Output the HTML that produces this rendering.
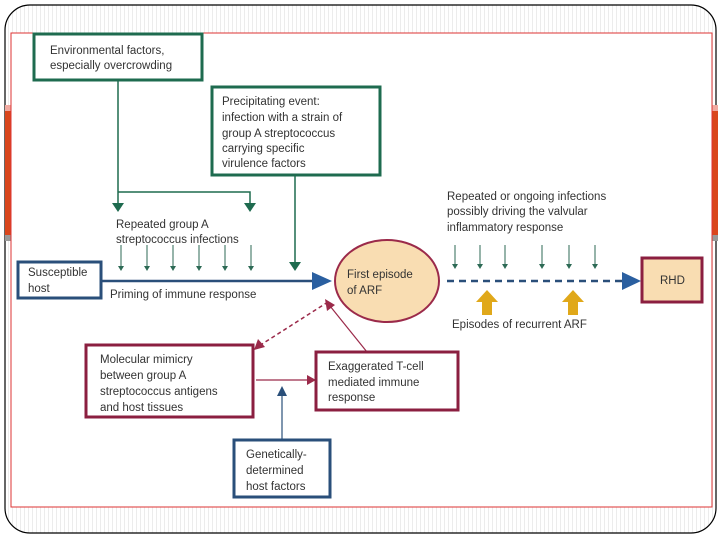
<!DOCTYPE html>
<html><head><style>
html,body{margin:0;padding:0;background:#fff;}
svg{display:block;font-family:"Liberation Sans",sans-serif;}
text{font-size:11.5px;fill:#333;}
</style></head><body>
<svg width="720" height="540" viewBox="0 0 720 540" xmlns="http://www.w3.org/2000/svg">
<defs>
<pattern id="st" width="4" height="10" patternUnits="userSpaceOnUse"><rect width="4" height="10" fill="#fff"/><rect width="1" height="10" fill="#ececec"/></pattern>
</defs>
<rect x="5" y="5" width="711" height="528" rx="25" fill="url(#st)" stroke="#000" stroke-width="1.2"/>
<rect x="5" y="105" width="7" height="6" fill="#f0a9a0"/>
<rect x="5" y="111" width="7" height="124" fill="#d9461c"/>
<rect x="5" y="235" width="7" height="6" fill="#999"/>
<rect x="711" y="105" width="7" height="6" fill="#f0a9a0"/>
<rect x="711" y="111" width="7" height="124" fill="#d9461c"/>
<rect x="711" y="235" width="7" height="6" fill="#999"/>
<rect x="11" y="33" width="701" height="474" fill="#fff" stroke="#d33" stroke-width="1"/>

<rect x="34" y="34" width="168" height="46" fill="#fff" stroke="#1e6b4f" stroke-width="3"/>
<text x="50" y="54">Environmental factors,</text>
<text x="50" y="69">especially overcrowding</text>
<rect x="212" y="87" width="168" height="88" fill="#fff" stroke="#1e6b4f" stroke-width="3"/>
<text x="222" y="105">Precipitating event:</text>
<text x="222" y="121">infection with a strain of</text>
<text x="222" y="137">group A streptococcus</text>
<text x="222" y="152">carrying specific</text>
<text x="222" y="167">virulence factors</text>

<path d="M118,80 V205 M118,192 H250 V205" stroke="#1e6b4f" stroke-width="1.5" fill="none"/>
<path d="M112,203 L124,203 L118,212z M244,203 L256,203 L250,212z M289,262 L301,262 L295,271z" fill="#1e6b4f"/>
<path d="M295,175 V263" stroke="#1e6b4f" stroke-width="1.5"/>
<text x="116" y="228">Repeated group A</text>
<text x="116" y="243">streptococcus infections</text>
<g stroke="#2d6a55" stroke-width="1">
<path d="M121,245V270M147,245V270M173,245V270M199,245V270M225,245V270M251,245V270"/>
<path d="M455,245V268M480,245V268M505,245V268M542,245V268M569,245V268M595,245V268"/>
</g>
<g fill="#2d6a55">
<path d="M118,266h6l-3,5z M144,266h6l-3,5z M170,266h6l-3,5z M196,266h6l-3,5z M222,266h6l-3,5z M248,266h6l-3,5z"/>
<path d="M452,264h6l-3,5z M477,264h6l-3,5z M502,264h6l-3,5z M539,264h6l-3,5z M566,264h6l-3,5z M592,264h6l-3,5z"/>
</g>

<rect x="18" y="262" width="83" height="36" fill="#fff" stroke="#2a4f7a" stroke-width="3"/>
<text x="28" y="276">Susceptible</text>
<text x="28" y="292">host</text>
<path d="M101,281 H316" stroke="#2a4f7a" stroke-width="2.5"/>
<path d="M312,272 L332,281 L312,290z" fill="#2a5fa0"/>
<text x="110" y="298">Priming of immune response</text>

<ellipse cx="387" cy="281" rx="52" ry="41" fill="#f9ddb2" stroke="#9b2a4a" stroke-width="2"/>
<text x="347" y="278">First episode</text>
<text x="347" y="294">of ARF</text>

<text x="447" y="200">Repeated or ongoing infections</text>
<text x="447" y="215">possibly driving the valvular</text>
<text x="447" y="231">inflammatory response</text>
<path d="M447,281 H622" stroke="#2a4f7a" stroke-width="2.5" stroke-dasharray="7,5"/>
<path d="M622,272 L641,281 L622,290z" fill="#2a5fa0"/>
<rect x="642" y="258" width="60" height="44" fill="#f9ddb2" stroke="#8b1f40" stroke-width="3"/>
<text x="660" y="284">RHD</text>
<path d="M487,290 L498,302 L492,302 L492,315 L482,315 L482,302 L476,302z M573,290 L584,302 L578,302 L578,315 L568,315 L568,302 L562,302z" fill="#e0a81a"/>
<text x="452" y="328">Episodes of recurrent ARF</text>

<path d="M328,302 L262,344" stroke="#9b2a4a" stroke-width="1.5" stroke-dasharray="4,3"/>
<path d="M254,350 L258,339 L265,347z" fill="#9b2a4a"/>
<path d="M367,352 L330,306" stroke="#9b2a4a" stroke-width="1.2"/>
<path d="M325,299 L335,305 L327,311z" fill="#9b2a4a"/>
<rect x="86" y="345" width="167" height="72" fill="#fff" stroke="#8b1f40" stroke-width="3"/>
<text x="100" y="363">Molecular mimicry</text>
<text x="100" y="379">between group A</text>
<text x="100" y="395">streptococcus antigens</text>
<text x="100" y="411">and host tissues</text>
<path d="M256,380 H308" stroke="#9b2a4a" stroke-width="1.2"/>
<path d="M307,375 L316,380 L307,385z" fill="#9b2a4a"/>
<rect x="316" y="352" width="142" height="58" fill="#fff" stroke="#8b1f40" stroke-width="3"/>
<text x="328" y="370">Exaggerated T-cell</text>
<text x="328" y="386">mediated immune</text>
<text x="328" y="401">response</text>
<path d="M282,440 V393" stroke="#2a4f7a" stroke-width="1.2"/>
<path d="M277,396 L282,386 L287,396z" fill="#2a4f7a"/>
<rect x="234" y="440" width="96" height="57" fill="#fff" stroke="#2a4f7a" stroke-width="3"/>
<text x="246" y="458">Genetically-</text>
<text x="246" y="474">determined</text>
<text x="246" y="490">host factors</text>
</svg>
</body></html>
